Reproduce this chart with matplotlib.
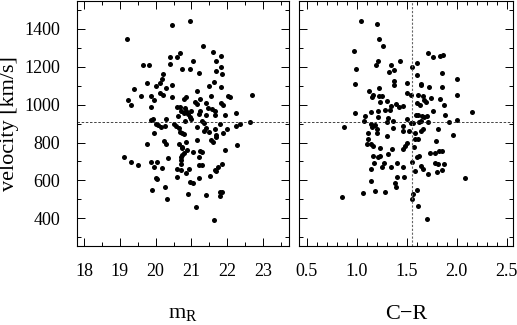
import numpy as np
import matplotlib
matplotlib.use("Agg")
import matplotlib.pyplot as plt
from matplotlib.ticker import MultipleLocator

plt.rcParams['font.family'] = ['Liberation Serif', 'DejaVu Serif']
plt.rcParams['mathtext.fontset'] = 'custom'
plt.rcParams['mathtext.rm'] = 'Liberation Serif'

# left panel: R magnitude vs velocity
mag_r = [20.95, 20.46, 19.2, 21.32, 21.6, 20.68, 21.83, 20.4, 20.6, 21.05,
         21.7, 20.4, 19.65, 19.82, 21.83, 20.75, 20.95, 21.7, 21.85, 21.2,
         20.2, 20.17, 21.63, 19.75, 20.12, 20.45, 21.5, 21.82, 20.0, 20.28,
         19.4, 21.15, 20.13, 20.2, 19.6, 19.88, 20.45, 20.85, 21.55, 22.02,
         22.08, 22.7, 20.8, 21.25, 19.22, 19.95, 21.1, 21.4, 21.82, 21.87,
         19.3, 21.15, 20.6, 20.68, 20.82, 19.87, 21.45, 21.58, 20.85, 20.72,
         21.0, 21.25, 21.65, 20.78, 20.9, 21.2, 21.4, 21.65, 21.95, 22.25,
         20.62, 20.95, 21.0, 19.92, 19.88, 20.3, 20.82, 21.3, 21.35, 20.5,
         20.0, 20.07, 20.25, 20.15, 20.58, 20.65, 21.15, 21.42, 21.65, 22.0,
         22.25, 22.35, 22.65, 21.8, 20.68, 20.75, 20.8, 21.35, 21.5, 21.68,
         21.7, 21.88, 19.95, 21.55, 21.6, 21.15, 20.85, 20.22, 20.3, 19.75,
         20.65, 20.75, 20.75, 22.28, 20.87, 21.95, 21.05, 21.25, 20.8, 21.3,
         20.75, 20.7, 21.2, 19.1, 20.35, 20.7, 19.3, 19.5, 19.87, 20.03,
         20.7, 21.2, 21.3, 21.85, 21.75, 21.65, 21.7, 19.95, 20.18, 20.6,
         20.7, 20.85, 20.92, 20.6, 21.2, 21.52, 20.0, 20.03, 20.95, 21.05,
         20.27, 19.9, 20.9, 21.4, 21.8, 21.85, 21.8, 20.32, 21.12, 21.62]
vel_l = [1442, 1422, 1345, 1308, 1280, 1272, 1258, 1252, 1252, 1230,
         1230, 1215, 1210, 1210, 1198, 1188, 1188, 1178, 1160, 1165,
         1160, 1138, 1120, 1112, 1112, 1105, 1100, 1092, 1098, 1090,
         1085, 1070, 1060, 1052, 1048, 1048, 1042, 1040, 1045, 1048,
         1040, 1050, 1028, 1030, 1025, 1025, 1015, 1010, 1008, 1000,
         1000, 1005, 990, 990, 985, 988, 985, 975, 968, 968,
         968, 968, 968, 955, 950, 950, 948, 948, 948, 958,
         940, 935, 925, 925, 918, 922, 915, 915, 905, 900,
         900, 895, 888, 882, 888, 875, 880, 878, 870, 870,
         888, 900, 908, 898, 858, 850, 845, 860, 855, 838,
         830, 850, 850, 815, 805, 815, 805, 808, 790, 790,
         790, 778, 770, 785, 760, 758, 748, 755, 745, 748,
         735, 725, 725, 725, 718, 705, 695, 682, 695, 697,
         688, 680, 680, 688, 668, 655, 648, 672, 665, 660,
         655, 640, 660, 618, 612, 625, 615, 605, 590, 585,
         565, 550, 530, 522, 540, 540, 518, 500, 458, 392]

# right panel: C-R colour vs velocity
c_r = [1.04, 1.2, 1.22, 1.26, 0.97, 1.71, 1.76, 1.83, 1.865, 1.21,
       1.19, 0.99, 1.34, 1.43, 1.37, 1.32, 1.55, 1.6, 1.6, 1.855,
       2.0, 0.98, 1.12, 1.37, 1.37, 1.5, 1.64, 1.645, 1.72, 1.855,
       2.0, 1.16, 1.22, 1.22, 1.25, 1.3, 1.23, 1.15, 1.5, 1.54,
       1.61, 1.66, 1.74, 1.69, 1.6, 1.83, 1.87, 1.34, 1.39, 1.42,
       1.46, 1.63, 1.67, 1.33, 1.28, 1.14, 1.21, 1.76, 2.15, 0.985,
       1.08, 1.21, 1.31, 1.5, 1.59, 1.61, 1.65, 1.67, 1.7, 1.88,
       2.0, 1.07, 1.14, 1.18, 1.3, 1.36, 1.545, 1.565, 1.62, 1.645,
       1.71, 1.92, 0.875, 1.15, 1.2, 1.36, 1.46, 1.52, 1.46, 1.58,
       1.64, 1.66, 1.81, 1.2, 1.11, 1.115, 1.3, 1.61, 1.585, 1.79,
       1.96, 1.48, 1.5, 1.1, 1.14, 1.16, 1.23, 1.35, 1.57, 1.46,
       1.82, 1.85, 1.78, 1.16, 1.21, 1.23, 1.31, 1.6, 1.62, 1.73,
       1.17, 1.25, 1.27, 1.4, 1.34, 1.46, 1.55, 1.64, 1.66, 1.78,
       1.81, 1.87, 1.85, 1.8, 1.71, 1.14, 1.58, 2.08, 1.4, 1.47,
       1.14, 1.38, 1.39, 1.6, 1.56, 1.55, 0.85, 1.06, 1.18, 1.28,
       1.61, 1.7]
vel_r = [1442, 1425, 1345, 1310, 1282, 1275, 1254, 1258, 1261, 1231,
         1210, 1189, 1212, 1231, 1185, 1175, 1199, 1219, 1159, 1168,
         1134, 1108, 1073, 1124, 1102, 1113, 1111, 1102, 1092, 1092,
         1051, 1051, 1046, 1087, 1044, 1020, 1014, 1041, 1060, 1051,
         1050, 1046, 1036, 1014, 1011, 1032, 999, 993, 1002, 990,
         993, 997, 1025, 972, 972, 963, 969, 969, 960, 958,
         942, 937, 928, 925, 946, 946, 941, 937, 942, 946,
         919, 914, 896, 891, 909, 916, 904, 904, 909, 916,
         909, 909, 882, 884, 874, 879, 888, 860, 863, 852,
         860, 874, 873, 849, 849, 821, 835, 817, 817, 807,
         840, 782, 798, 793, 791, 784, 773, 766, 778, 766,
         757, 757, 745, 731, 726, 729, 738, 726, 731, 745,
         690, 671, 690, 694, 668, 668, 699, 676, 659, 690,
         685, 684, 655, 643, 631, 662, 652, 615, 618, 620,
         594, 588, 566, 551, 527, 502, 514, 532, 543, 536,
         462, 395]

v_mean = 906
cr_mean = 1.555

fig = plt.figure(figsize=(5.17, 3.25), dpi=100)
ax1 = fig.add_axes([0.149, 0.243, 0.410, 0.754])
ax2 = fig.add_axes([0.578, 0.243, 0.414, 0.754])

for ax in (ax1, ax2):
    ax.tick_params(which='both', direction='in', top=True, right=True,
                   width=0.7, labelsize=13, pad=12)
    ax.tick_params(which='major', length=6)
    ax.tick_params(which='minor', length=3)
    for s in ax.spines.values():
        s.set_linewidth(0.8)
    ax.set_ylim(253, 1548)
    ax.yaxis.set_major_locator(MultipleLocator(200))
    ax.yaxis.set_minor_locator(MultipleLocator(100))
    ax.axhline(v_mean, color='0.15', lw=0.6, ls=(0, (3, 2)))

ax1.scatter(mag_r, vel_l, s=13, c='black', linewidths=0)
ax1.set_xlim(17.8, 23.73)
ax1.xaxis.set_major_locator(MultipleLocator(1))
ax1.xaxis.set_minor_locator(MultipleLocator(0.5))
ax1.set_xlabel('m$_\\mathrm{R}$', fontsize=16, labelpad=18)
ax1.set_ylabel('velocity [km/s]', fontsize=16, labelpad=4)

ax2.scatter(c_r, vel_r, s=13, c='black', linewidths=0)
ax2.axvline(cr_mean, color='0.4', lw=0.8, ls=(0, (2, 1.5)))
ax2.set_xlim(0.423, 2.563)
ax2.xaxis.set_major_locator(MultipleLocator(0.5))
ax2.xaxis.set_minor_locator(MultipleLocator(0.1))
ax2.xaxis.set_major_formatter(matplotlib.ticker.FormatStrFormatter('%.1f'))
ax2.tick_params(labelleft=False)
ax2.set_xlabel('C\u2212R', fontsize=16, labelpad=18)

fig.savefig('out.png', dpi=100)
